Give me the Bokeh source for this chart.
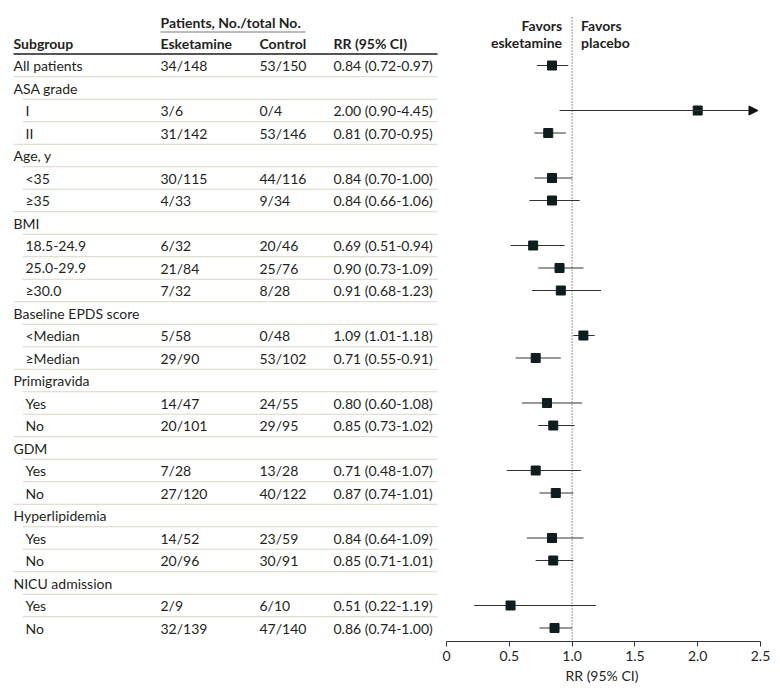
from bokeh.plotting import figure
from bokeh.models import Range1d, FixedTicker, ColumnDataSource, Arrow, NormalHead, Title
from bokeh.core.properties import value
from bokeh.embed import file_html
from bokeh.resources import INLINE

# ---------------- data ----------------
labels = ["All patients", "ASA grade", "I", "II", "Age, y", "<35", "≥35", "BMI",
          "18.5-24.9", "25.0-29.9", "≥30.0", "Baseline EPDS score", "<Median",
          "≥Median", "Primigravida", "Yes", "No", "GDM", "Yes", "No",
          "Hyperlipidemia", "Yes", "No", "NICU admission", "Yes", "No"]
level = [0, 0, 1, 1, 0, 1, 1, 0, 1, 1, 1, 0, 1, 1, 0, 1, 1, 0, 1, 1, 0, 1, 1, 0, 1, 1]
esketamine = ["34/148", "", "3/6", "31/142", "", "30/115", "4/33", "", "6/32", "21/84",
              "7/32", "", "5/58", "29/90", "", "14/47", "20/101", "", "7/28", "27/120",
              "", "14/52", "20/96", "", "2/9", "32/139"]
control = ["53/150", "", "0/4", "53/146", "", "44/116", "9/34", "", "20/46", "25/76",
           "8/28", "", "0/48", "53/102", "", "24/55", "29/95", "", "13/28", "40/122",
           "", "23/59", "30/91", "", "6/10", "47/140"]
rr = [0.84, None, 2.00, 0.81, None, 0.84, 0.84, None, 0.69, 0.90, 0.91, None, 1.09,
      0.71, None, 0.80, 0.85, None, 0.71, 0.87, None, 0.84, 0.85, None, 0.51, 0.86]
ci_low = [0.72, None, 0.90, 0.70, None, 0.70, 0.66, None, 0.51, 0.73, 0.68, None, 1.01,
          0.55, None, 0.60, 0.73, None, 0.48, 0.74, None, 0.64, 0.71, None, 0.22, 0.74]
ci_high = [0.97, None, 4.45, 0.95, None, 1.00, 1.06, None, 0.94, 1.09, 1.23, None, 1.18,
           0.91, None, 1.08, 1.02, None, 1.07, 1.01, None, 1.09, 1.01, None, 1.19, 1.00]
x_ticks = [0, 0.5, 1.0, 1.5, 2.0, 2.5]
x_tick_labels = ["0", "0.5", "1.0", "1.5", "2.0", "2.5"]
x_title = "RR (95% CI)"

# ---------------- layout ----------------
FONT = value("Lato")
FS = "14px"
TXT = "#231f20"
W, H = 776, 690
PX0, PX1 = 446.0, 760.0          # canvas x of first and last tick
XMIN, XMAX = x_ticks[0], x_ticks[-1]
sc = (PX1 - PX0) / (XMAX - XMIN)
FR_L, FR_R, FR_T, FR_B = 0.0, float(W), 0.0, 641.0
ROW0, PITCH = 65.0, 22.5

p = figure(width=W, height=H, output_backend="svg", toolbar_location=None,
           x_range=Range1d((FR_L - PX0) / sc, (FR_R - PX0) / sc),
           y_range=Range1d((FR_B - ROW0) / PITCH, (FR_T - ROW0) / PITCH),
           y_axis_location=None, min_border_left=0, min_border_right=0,
           min_border_top=0, min_border_bottom=int(H - FR_B))
p.extra_x_ranges = {"px": Range1d(FR_L, FR_R)}
p.extra_y_ranges = {"px": Range1d(FR_B, FR_T)}
p.outline_line_color = None
p.xgrid.visible = False
p.ygrid.visible = False
p.background_fill_color = "white"
p.border_fill_color = "white"

ax = p.xaxis[0]
ax.ticker = FixedTicker(ticks=x_ticks)
ax.major_label_overrides = {t: s for t, s in zip(x_ticks, x_tick_labels)}
ax.bounds = (XMIN, XMAX)
ax.minor_tick_line_color = None
ax.major_tick_in = 0
ax.major_tick_out = 5
ax.major_label_standoff = 4
ax.major_label_text_font = "Lato"
ax.major_label_text_font_size = FS
ax.major_label_text_color = TXT
ax.axis_line_color = "#333333"
ax.major_tick_line_color = "#333333"

# axis title, centred under the axis span (0 .. 2.5)
title_w = 76
p.add_layout(Title(text=x_title, align="left",
                   offset=(PX0 + PX1) / 2 - FR_L - title_w / 2, standoff=2,
                   text_font="Lato", text_font_size=FS, text_font_style="normal",
                   text_color=TXT), "below")

rows = list(range(len(labels)))

# separators between rows
sep_y, sep_x0 = [], []
for i in rows[:-1]:
    sep_y.append(ROW0 + PITCH * (i + 0.5))
    sep_x0.append(13 if level[i + 1] == 0 else 22)
p.segment(x0=sep_x0, y0=sep_y, x1=437, y1=sep_y, x_range_name="px", y_range_name="px",
          line_color="#d9d5c7", line_width=1)
# header rules
p.segment(x0=[13], y0=[53.5], x1=[437], y1=[53.5], x_range_name="px", y_range_name="px",
          line_color="#555555", line_width=2)
p.segment(x0=[160], y0=[31.5], x1=[305], y1=[31.5], x_range_name="px", y_range_name="px",
          line_color="#777777", line_width=1)

# header text
p.text(x=[160], y=[22], text=["Patients, No./total No."], x_range_name="px",
       y_range_name="px", text_font=FONT, text_font_style="bold", text_font_size=FS,
       text_color=TXT, text_baseline="middle")
p.text(x=[13, 160, 259, 333], y=[43] * 4,
       text=["Subgroup", "Esketamine", "Control", "RR (95% CI)"], x_range_name="px",
       y_range_name="px", text_font=FONT, text_font_style="bold", text_font_size=FS,
       text_color=TXT, text_baseline="middle")

# table body
rr_text = ["" if r is None else f"{r:.2f} ({l:.2f}-{h:.2f})"
           for r, l, h in zip(rr, ci_low, ci_high)]
lab_x = [13 if lv == 0 else 25 for lv in level]
common = dict(x_range_name="px", text_font=FONT, text_font_size=FS,
              text_color=TXT, text_baseline="middle")
p.text(x=lab_x, y=rows, text=labels, **common)
p.text(x=[160] * len(rows), y=rows, text=esketamine, **common)
p.text(x=[259] * len(rows), y=rows, text=control, **common)
p.text(x=[333] * len(rows), y=rows, text=rr_text, **common)

# reference line at RR = 1
p.segment(x0=[1.0], y0=[17], x1=[1.0], y1=[FR_B], y_range_name="px",
          line_color="#333333", line_width=1, line_dash="1 2")
p.text(x=[1.0, 1.0], y=[25, 42], text=["Favors", "esketamine"], x_offset=-10,
       y_range_name="px", text_font=FONT, text_font_style="bold", text_font_size=FS,
       text_color=TXT, text_baseline="middle", text_align="right")
p.text(x=[1.0, 1.0], y=[25, 42], text=["Favors", "placebo"], x_offset=9,
       y_range_name="px", text_font=FONT, text_font_style="bold", text_font_size=FS,
       text_color=TXT, text_baseline="middle", text_align="left")

# CIs and points
ys, lo, hi, pt = [], [], [], []
for i, r, l, h in zip(rows, rr, ci_low, ci_high):
    if r is None:
        continue
    if h > XMAX:
        p.add_layout(Arrow(end=NormalHead(size=9, fill_color="#111111", line_color="#111111"),
                           x_start=l, y_start=i, x_end=XMAX - 0.02, y_end=i,
                           line_color="#333333", line_width=1))
    else:
        ys.append(i); lo.append(l); hi.append(h)
    pt.append((i, r))
p.segment(x0=lo, y0=ys, x1=hi, y1=ys, line_color="#333333", line_width=1)
src = ColumnDataSource(dict(x=[r for _, r in pt], y=[i for i, _ in pt]))
p.scatter("x", "y", source=src, marker="square", size=9, fill_color="#0e1d1d",
          line_color="#0e1d1d")

open("out.html", "w").write(file_html(p, INLINE))
